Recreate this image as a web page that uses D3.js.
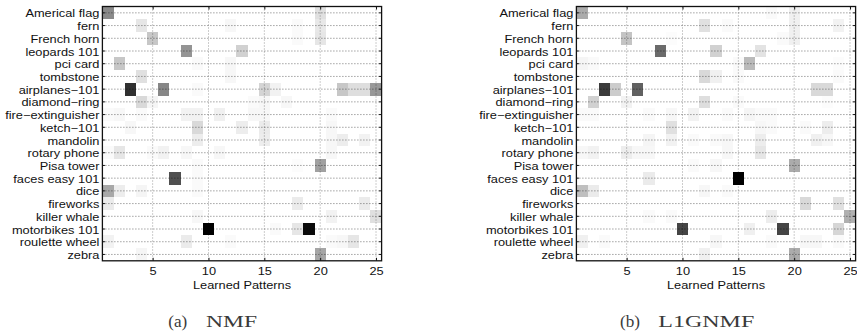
<!DOCTYPE html>
<html>
<head>
<meta charset="utf-8">
<script src="https://cdn.jsdelivr.net/npm/d3@7"></script>
<style>
  body { margin: 0; background: #fff; }
  svg { display: block; }
</style>
</head>
<body>
<svg id="chart" width="857" height="335"></svg>
<script>
// Object categories (rows) and learned pattern indices (columns)
const categories = [
  "Americal flag", "fern", "French horn", "leopards 101", "pci card",
  "tombstone", "airplanes\u2212101", "diamond\u2212ring", "fire\u2212extinguisher", "ketch\u2212101",
  "mandolin", "rotary phone", "Pisa tower", "faces easy 101", "dice",
  "fireworks", "killer whale", "motorbikes 101", "roulette wheel", "zebra"
];
const patterns = [1, 2, 3, 4, 5, 6, 7, 8, 9, 10, 11, 12, 13, 14, 15, 16, 17, 18, 19, 20, 21, 22, 23, 24, 25];
const xTickValues = [5, 10, 15, 20, 25];

// Normalised pattern weights per category, NMF
const nmfWeights = [
  [.46,0,0,0,0, 0,0,0,0,0, 0,0,0,0,0, 0,0,0,0,.12, 0,0,0,0,0],
  [0,0,0,.10,0, 0,0,0,0,0, 0,.03,0,0,0, 0,0,.02,0,.09, 0,0,0,0,0],
  [0,0,0,0,.22, 0,0,0,0,0, 0,0,0,0,0, 0,0,.02,0,.10, 0,0,0,0,0],
  [0,0,0,0,0, 0,0,.42,0,0, 0,0,.18,0,0, 0,0,0,0,0, 0,0,0,0,0],
  [0,.22,0,0,0, 0,0,0,.02,0, 0,.03,0,0,0, 0,0,0,0,0, 0,0,0,0,0],
  [0,0,0,.12,0, 0,0,0,0,0, 0,.03,0,0,0, 0,0,0,0,0, 0,0,0,0,0],
  [0,0,.81,0,0, .47,0,0,.02,0, 0,0,0,0,.17, .05,0,0,0,0, 0,.22,.13,.13,.40],
  [0,0,0,.15,.04, 0,0,0,0,0, 0,0,0,.02,.03, 0,.03,0,0,0, 0,0,0,0,0],
  [.02,.03,0,.02,0, 0,0,.05,.05,0, .06,0,0,.03,.03, 0,0,0,0,0, .02,0,0,0,0],
  [0,0,.03,0,0, 0,0,0,.15,0, 0,0,.07,0,.08, 0,0,0,0,0, .03,0,0,0,0],
  [0,0,0,0,0, 0,0,0,.07,0, 0,0,0,0,.07, 0,0,0,0,0, .03,.07,0,.05,0],
  [.02,.10,0,0,.02, .05,0,.03,0,0, .03,0,0,0,0, 0,0,0,0,0, .03,0,0,0,0],
  [0,0,0,0,0, 0,0,0,.02,0, 0,0,0,0,0, 0,0,.01,0,.37, 0,0,0,0,0],
  [0,0,0,0,0, 0,.69,0,.02,0, 0,0,0,0,0, 0,0,0,0,0, 0,0,0,0,0],
  [.34,.07,0,.04,0, 0,0,0,.02,0, 0,0,0,0,0, 0,0,0,0,0, 0,0,0,0,0],
  [.08,0,0,0,0, 0,0,0,0,0, 0,0,0,0,0, 0,0,.08,0,0, 0,0,0,.08,0],
  [0,0,0,0,0, 0,0,0,.03,0, 0,0,0,0,0, 0,0,0,0,0, .05,0,0,0,.12],
  [0,0,0,0,0, 0,0,0,0,1, 0,0,0,0,0, .02,0,.10,.96,0, 0,0,0,0,0],
  [.05,0,0,0,0, 0,0,.08,0,0, 0,.02,0,0,0, 0,0,0,0,0, .02,.03,.10,0,0],
  [0,0,0,.04,0, 0,0,0,0,0, 0,0,0,0,0, 0,0,0,0,.35, 0,0,0,0,0]
];

// Normalised pattern weights per category, L1GNMF
const l1gnmfWeights = [
  [.33,0,0,0,0, 0,0,0,0,0, 0,0,0,0,0, 0,0,.02,0,.06, 0,0,0,0,0],
  [0,0,0,0,0, 0,0,0,0,0, 0,.12,0,.02,0, 0,0,0,0,.06, 0,0,0,.05,0],
  [0,0,0,0,.23, 0,0,0,.01,0, 0,0,0,0,0, 0,0,0,.02,.06, 0,0,0,0,0],
  [0,0,0,0,0, 0,0,.58,0,0, 0,0,.18,0,0, 0,.11,0,0,0, 0,0,0,0,0],
  [.04,.02,0,0,0, 0,0,0,0,0, 0,0,0,0,.02, .27,0,0,0,0, 0,0,0,.01,0],
  [0,0,0,0,0, 0,0,0,0,0, 0,.15,.06,0,.02, 0,0,0,0,0, 0,0,0,.02,0],
  [0,0,.77,.20,0, .62,0,0,0,0, 0,0,0,0,0, 0,0,0,0,0, 0,.15,.15,0,0],
  [0,.18,0,0,.05, 0,0,0,0,0, 0,.13,0,0,.02, 0,0,0,0,0, 0,0,.01,0,0],
  [.02,.02,0,0,0, 0,.02,0,.03,0, .05,0,0,.02,0, .04,.02,.02,0,0, 0,0,0,0,0],
  [0,0,0,0,0, 0,0,0,.12,0, 0,0,0,0,0, 0,.03,.02,0,0, .02,0,.07,0,0],
  [0,0,0,0,0, 0,.04,0,.05,0, .02,0,.02,.03,0, 0,.07,0,0,0, 0,.06,.03,0,0],
  [.03,.05,0,0,.07, .03,.03,0,0,0, 0,0,0,.03,0, 0,.10,0,0,0, 0,0,0,0,0],
  [0,0,0,0,0, 0,0,0,0,0, .02,0,.03,0,0, 0,0,0,0,.33, 0,0,0,0,0],
  [0,0,0,0,0, 0,.08,0,0,0, 0,0,0,0,1, 0,0,0,0,0, 0,0,0,0,0],
  [.25,.08,0,0,0, 0,0,0,0,0, 0,.03,0,.02,0, 0,0,0,0,0, 0,0,0,0,0],
  [0,0,0,0,0, 0,0,0,0,0, 0,0,0,0,0, 0,0,0,0,0, .15,0,0,.12,0],
  [0,0,0,0,0, 0,.02,0,.02,0, 0,0,0,0,0, 0,0,.07,0,0, 0,0,0,0,.31],
  [0,0,0,0,0, 0,0,0,0,.73, 0,0,0,0,0, .06,0,0,.73,0, 0,0,0,.16,0],
  [.06,0,.02,0,0, 0,0,0,0,0, 0,0,.03,0,0, 0,0,.02,0,0, .03,.03,0,.02,0],
  [0,0,0,0,0, 0,0,0,0,0, 0,.06,0,0,0, 0,0,0,0,.33, 0,0,0,0,0]
];

const xAxisTitle = "Learned Patterns";

// Panel placement and sub-captions
const panels = [
  { left: 102.4, right: 381.6, values: nmfWeights,   tag: "(a)", name: "NMF",    tagX: 168.3, tagW: 19, nameX: 206,   nameW: 51 },
  { left: 576.4, right: 855.6, values: l1gnmfWeights, tag: "(b)", name: "L1GNMF", tagX: 620,   tagW: 20, nameX: 658.3, nameW: 96 }
];
const plotTop = 6.5, plotBottom = 260.8;
const sansFont = "'Liberation Sans', Arial, Helvetica, sans-serif";
const serifFont = "'Liberation Serif', 'Times New Roman', serif";
const stretch = 1.22;   // horizontal widening of the sans labels
const fontSize = 10.5;

const svg = d3.select("#chart");
const shade = d3.scaleLinear().domain([0, 1]).range(["#ffffff", "#000000"]);

panels.forEach(p => {
  const x = d3.scaleLinear().domain([0.5, 25.5]).range([p.left, p.right]);
  const y = d3.scaleBand().domain(categories).range([plotTop, plotBottom]);
  const g = svg.append("g");

  // Heat-map cells
  const cells = p.values.flatMap((row, i) =>
    row.map((v, j) => ({ cat: categories[i], pat: patterns[j], v })));
  g.append("g").selectAll("rect")
    .data(cells.filter(d => d.v > 0))
    .join("rect")
    .attr("x", d => x(d.pat - 0.5))
    .attr("width", d => x(d.pat + 0.5) - x(d.pat - 0.5))
    .attr("y", d => y(d.cat))
    .attr("height", y.bandwidth())
    .attr("fill", d => shade(d.v))
    .attr("shape-rendering", "crispEdges");

  // Dotted grid
  const grid = g.append("g").attr("fill", "none");
  grid.selectAll("line.h").data(categories).join("line")
    .attr("class", "h")
    .attr("x1", p.left).attr("x2", p.right)
    .attr("y1", d => y(d) + y.bandwidth() / 2)
    .attr("y2", d => y(d) + y.bandwidth() / 2)
    .attr("stroke", "#000").attr("stroke-opacity", 0.55)
    .attr("stroke-width", 1).attr("stroke-dasharray", "1,2");
  grid.selectAll("line.v").data(xTickValues).join("line")
    .attr("class", "v")
    .attr("x1", d => x(d)).attr("x2", d => x(d))
    .attr("y1", plotTop).attr("y2", plotBottom)
    .attr("stroke", "#000").attr("stroke-opacity", 0.4)
    .attr("stroke-width", 1).attr("stroke-dasharray", "1,2");

  // Axes: inward ticks on all four sides, labels left and bottom
  const left = g.append("g").attr("transform", `translate(${p.left},0)`)
    .call(d3.axisLeft(y).tickSizeInner(-2.5).tickSizeOuter(0).tickPadding(3));
  const right = g.append("g").attr("transform", `translate(${p.right},0)`)
    .call(d3.axisRight(y).tickSizeInner(-2.5).tickSizeOuter(0).tickFormat(""));
  const bottom = g.append("g").attr("transform", `translate(0,${plotBottom})`)
    .call(d3.axisBottom(x).tickValues(xTickValues).tickSizeInner(-3).tickSizeOuter(0).tickPadding(7));
  const top = g.append("g").attr("transform", `translate(0,${plotTop})`)
    .call(d3.axisTop(x).tickValues(xTickValues).tickSizeInner(-3).tickSizeOuter(0).tickFormat(""));

  [left, right, bottom, top].forEach(a => {
    a.select(".domain").remove();
    a.selectAll(".tick line").attr("stroke", "#111").attr("stroke-width", 1);
    a.attr("font-family", sansFont).attr("font-size", fontSize);
  });
  left.selectAll(".tick text")
    .attr("x", -3 / stretch).attr("dy", "0.43em")
    .attr("fill", "#111")
    .attr("transform", `scale(${stretch},1)`);
  bottom.selectAll(".tick text")
    .attr("fill", "#111")
    .attr("transform", `scale(${stretch},1)`)
    .attr("x", 0)
    .attr("text-anchor", "middle");

  // Frame
  g.append("rect")
    .attr("x", p.left).attr("y", plotTop)
    .attr("width", p.right - p.left).attr("height", plotBottom - plotTop)
    .attr("fill", "none").attr("stroke", "#111").attr("stroke-width", 1.3);

  // X axis title
  g.append("text")
    .attr("transform", `translate(${(p.left + p.right) / 2},289) scale(${stretch},1)`)
    .attr("text-anchor", "middle")
    .attr("font-family", sansFont).attr("font-size", fontSize)
    .attr("fill", "#111")
    .text(xAxisTitle);

  // Sub-caption
  const cap = g.append("g")
    .attr("font-family", serifFont).attr("font-size", 17.5).attr("fill", "#3a3a3a");
  cap.append("text").attr("x", p.tagX).attr("y", 327)
    .attr("textLength", p.tagW).attr("lengthAdjust", "spacingAndGlyphs")
    .text(p.tag);
  cap.append("text").attr("x", p.nameX).attr("y", 327)
    .attr("textLength", p.nameW).attr("lengthAdjust", "spacingAndGlyphs")
    .text(p.name);
});
</script>
</body>
</html>
